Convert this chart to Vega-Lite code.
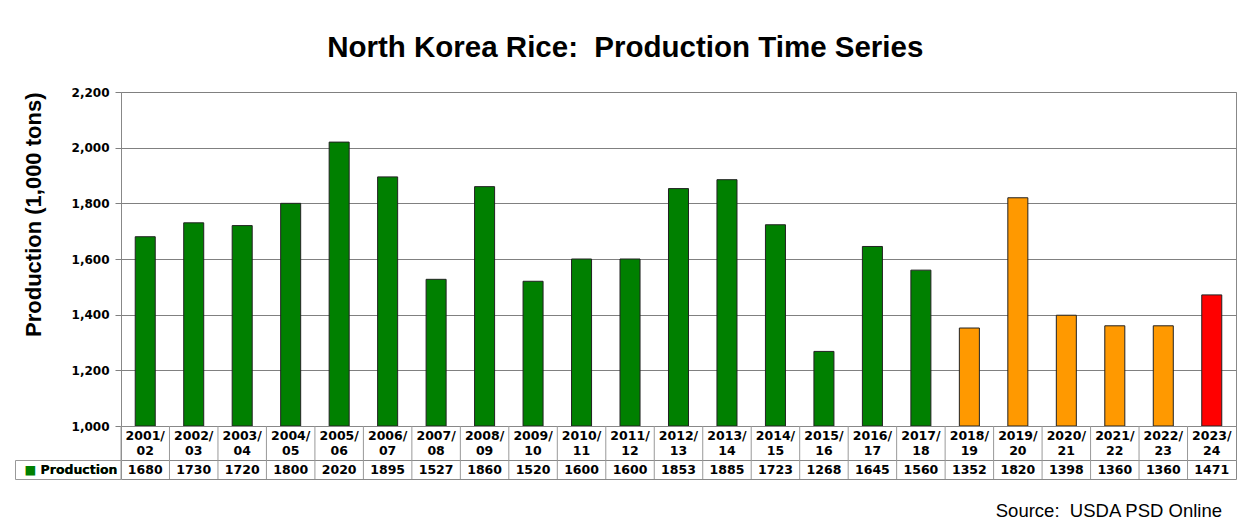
{
  "$schema": "https://vega.github.io/schema/vega-lite/v6.json",
  "padding": {"left": 14, "top": 33, "right": 5, "bottom": 5},
  "background": "white",
  "title": {"text": "North Korea Rice:\u00a0 Production Time Series", "font": "Liberation Sans", "fontSize": 29.5, "fontWeight": "bold", "color": "black", "anchor": "middle", "frame": "bounds", "offset": 22},
  "datasets": {
    "rice": [
      {"year": "2001/02", "production": 1680, "status": "past"},
      {"year": "2002/03", "production": 1730, "status": "past"},
      {"year": "2003/04", "production": 1720, "status": "past"},
      {"year": "2004/05", "production": 1800, "status": "past"},
      {"year": "2005/06", "production": 2020, "status": "past"},
      {"year": "2006/07", "production": 1895, "status": "past"},
      {"year": "2007/08", "production": 1527, "status": "past"},
      {"year": "2008/09", "production": 1860, "status": "past"},
      {"year": "2009/10", "production": 1520, "status": "past"},
      {"year": "2010/11", "production": 1600, "status": "past"},
      {"year": "2011/12", "production": 1600, "status": "past"},
      {"year": "2012/13", "production": 1853, "status": "past"},
      {"year": "2013/14", "production": 1885, "status": "past"},
      {"year": "2014/15", "production": 1723, "status": "past"},
      {"year": "2015/16", "production": 1268, "status": "past"},
      {"year": "2016/17", "production": 1645, "status": "past"},
      {"year": "2017/18", "production": 1560, "status": "past"},
      {"year": "2018/19", "production": 1352, "status": "recent"},
      {"year": "2019/20", "production": 1820, "status": "recent"},
      {"year": "2020/21", "production": 1398, "status": "recent"},
      {"year": "2021/22", "production": 1360, "status": "recent"},
      {"year": "2022/23", "production": 1360, "status": "recent"},
      {"year": "2023/24", "production": 1471, "status": "current"}
    ]
  },
  "data": {"name": "rice"},
  "spacing": 0,
  "bounds": "flush",
  "resolve": {"scale": {"x": "independent", "y": "independent", "color": "independent"}},
  "vconcat": [
    {
      "width": 1115,
      "height": 334,
      "mark": {"type": "bar", "stroke": "#222222", "strokeWidth": 1},
      "encoding": {
        "x": {"field": "year", "type": "ordinal", "sort": null, "axis": null, "scale": {"paddingInner": 0.587, "paddingOuter": 0.2935}},
        "y": {
          "field": "production", "type": "quantitative",
          "scale": {"domain": [1000, 2200], "zero": false, "nice": false},
          "axis": {
            "values": [1000, 1200, 1400, 1600, 1800, 2000, 2200], "format": ",d",
            "title": "Production (1,000 tons)", "titleAnchor": "end", "grid": true, "gridColor": "#808080", "gridOpacity": 1,
            "domain": false, "tickColor": "#808080", "tickSize": 6,
            "labelFont": "DejaVu Sans", "labelFontWeight": "bold", "labelFontSize": 12, "labelColor": "black", "labelPadding": 6,
            "titleFont": "Liberation Sans", "titleFontSize": 22, "titleFontWeight": "bold", "titleColor": "black", "titlePadding": 26
          }
        },
        "y2": {"datum": 1000},
        "color": {"field": "status", "type": "nominal", "scale": {"domain": ["past", "recent", "current"], "range": ["#008000", "#FF9900", "#FF0000"]}, "legend": null}
      }
    },
    {
      "width": 1115,
      "height": 34,
      "encoding": {
        "x": {"field": "year", "type": "ordinal", "sort": null, "scale": {"paddingInner": 0, "paddingOuter": 0}, "axis": null}
      },
      "layer": [
        {
          "mark": {"type": "rule", "color": "#999999", "strokeWidth": 1},
          "encoding": {"x": {"field": "year", "type": "ordinal", "sort": null, "bandPosition": 0}}
        },
        {
          "transform": [{"calculate": "[slice(datum.year, 0, 5), slice(datum.year, 5)]", "as": "ylabel"}],
          "mark": {"type": "text", "font": "DejaVu Sans", "fontWeight": "bold", "fontSize": 12.5, "lineHeight": 15, "baseline": "middle", "dy": -7, "color": "black"},
          "encoding": {"text": {"field": "ylabel"}}
        }
      ]
    },
    {
      "width": 1115,
      "height": 19,
      "title": {"text": "Source:\u00a0 USDA PSD Online", "orient": "bottom", "anchor": "end", "font": "Liberation Sans", "fontSize": 18.5, "fontWeight": "normal", "color": "black", "offset": 16, "dx": -14},
      "encoding": {
        "x": {"field": "year", "type": "ordinal", "sort": null, "scale": {"paddingInner": 0, "paddingOuter": 0}, "axis": null}
      },
      "layer": [
        {
          "mark": {"type": "rule", "color": "#999999", "strokeWidth": 1},
          "encoding": {"x": {"field": "year", "type": "ordinal", "sort": null, "bandPosition": 0}}
        },
        {
          "mark": {"type": "text", "font": "DejaVu Sans", "fontWeight": "bold", "fontSize": 12.5, "baseline": "middle", "color": "black"},
          "encoding": {
            "y": {"datum": 0.5, "type": "quantitative", "scale": {"domain": [0, 1], "nice": false, "zero": false},
                  "axis": {"values": [0, 0.5, 0.50001, 1], "offset": 106, "title": null, "grid": false,
                           "domain": true, "domainColor": "#999999",
                           "tickSize": -106, "tickColor": {"condition": {"test": "datum.value == 0 || datum.value == 1", "value": "#999999"}, "value": "transparent"},
                           "labelExpr": "datum.value == 0.5 ? '■ Production' : (datum.value > 0.5 && datum.value < 1 ? 'Production' : '')",
                           "labelColor": {"condition": {"test": "datum.value == 0.5", "value": "#008000"}, "value": "black"},
                           "labelFont": "DejaVu Sans", "labelFontWeight": "bold", "labelFontSize": 12.5, "labelPadding": 4, "labelAlign": "right", "labelBaseline": "middle"}},
            "text": {"field": "production", "type": "nominal"}
          }
        }
      ]
    }
  ],
  "config": {
    "view": {"stroke": "#888888", "strokeWidth": 1},
    "axis": {"labelOverlap": false}
  }
}
